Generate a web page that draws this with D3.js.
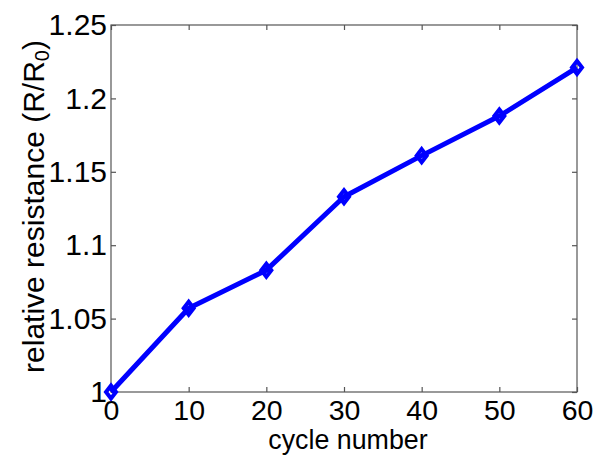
<!DOCTYPE html>
<html>
<head>
<meta charset="utf-8">
<script src="https://cdn.jsdelivr.net/npm/d3@7"></script>
<style>
  body { margin: 0; background: #fff; }
  svg text { font-family: "Liberation Sans", Arial, sans-serif; fill: #000; }
</style>
</head>
<body>
<svg id="chart" width="593" height="455"></svg>
<script>
var cycles = [0, 10, 20, 30, 40, 50, 60];
var resistance = [1.0, 1.057, 1.083, 1.133, 1.161, 1.188, 1.221];
var xTicks = [0, 10, 20, 30, 40, 50, 60];
var yTicks = [1, 1.05, 1.1, 1.15, 1.2, 1.25];

var svg = d3.select("#chart"),
    margin = {left: 111, right: 16, top: 25, bottom: 63},
    width = +svg.attr("width") - margin.left - margin.right,
    height = +svg.attr("height") - margin.top - margin.bottom;

var x = d3.scaleLinear().domain([0, 60]).range([0, width]);
var y = d3.scaleLinear().domain([1, 1.25]).range([height, 0]);

var g = svg.append("g")
    .attr("transform", "translate(" + margin.left + "," + margin.top + ")");

var axisColor = "#555";
var tickLen = 5;

// box
g.append("rect")
    .attr("width", width)
    .attr("height", height)
    .attr("fill", "none")
    .attr("stroke", axisColor)
    .attr("stroke-width", 1.2);

// inward ticks on all four sides
function fmt(d) { return d3.format("")(+d.toFixed(2)); }

var xb = g.append("g").attr("transform", "translate(0," + height + ")")
    .call(d3.axisBottom(x).tickValues(xTicks).tickSize(-tickLen).tickPadding(8).tickFormat(fmt));
var xt = g.append("g")
    .call(d3.axisTop(x).tickValues(xTicks).tickSize(-tickLen).tickFormat(""));
var yl = g.append("g")
    .call(d3.axisLeft(y).tickValues(yTicks).tickSize(-tickLen).tickPadding(4).tickFormat(fmt));
var yr = g.append("g").attr("transform", "translate(" + width + ",0)")
    .call(d3.axisRight(y).tickValues(yTicks).tickSize(-tickLen).tickFormat(""));

[xb, xt, yl, yr].forEach(function (a) {
    a.select(".domain").remove();
    a.selectAll(".tick line").attr("stroke", axisColor).attr("stroke-width", 1.2);
    a.selectAll("text").attr("font-size", 30).attr("fill", "#000");
});
xb.selectAll("text").attr("font-size", 28.5).attr("dy", "0.71em");

// data line
var line = d3.line()
    .x(function (d, i) { return x(cycles[i]); })
    .y(function (d) { return y(d); });

g.append("path")
    .datum(resistance)
    .attr("fill", "none")
    .attr("stroke", "#0000ff")
    .attr("stroke-width", 5)
    .attr("stroke-linejoin", "round")
    .attr("d", line);

// diamond markers
g.append("g").selectAll("path")
    .data(resistance)
    .enter().append("path")
    .attr("transform", function (d, i) {
        return "translate(" + x(cycles[i]) + "," + y(d) + ")";
    })
    .attr("d", "M0,-6.5L5,0L0,6.5L-5,0Z")
    .attr("fill", "none")
    .attr("stroke", "#0000ff")
    .attr("stroke-width", 4)
    .attr("stroke-linejoin", "miter");

// axis labels
svg.append("text")
    .attr("x", margin.left + width / 2 + 4)
    .attr("y", 449.3)
    .attr("text-anchor", "middle")
    .attr("font-size", 26.8)
    .text("cycle number");

var yLab = svg.append("text")
    .attr("transform", "translate(44," + (margin.top + height / 2 - 2) + ") rotate(-90)")
    .attr("text-anchor", "middle")
    .attr("font-size", 30);
yLab.append("tspan").text("relative resistance (R/R");
yLab.append("tspan").attr("font-size", 20).attr("dy", 5).text("0");
yLab.append("tspan").attr("dy", -5).text(")");
</script>
</body>
</html>
